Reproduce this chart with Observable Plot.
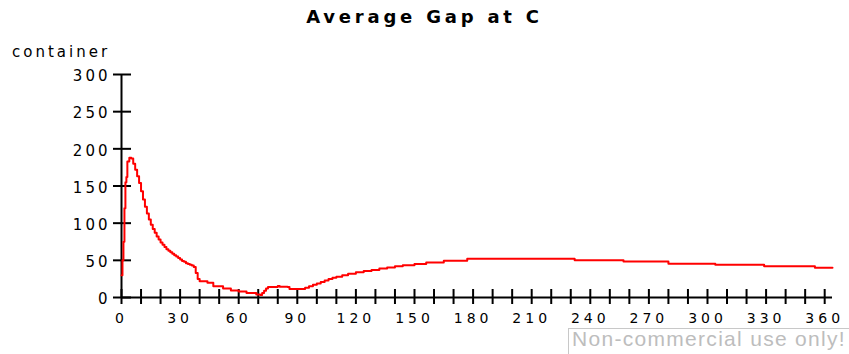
<!DOCTYPE html>
<html>
<head>
<meta charset="utf-8">
<script src="https://cdn.jsdelivr.net/npm/d3@7"></script>
<script src="https://cdn.jsdelivr.net/npm/@observablehq/plot@0.6"></script>
<style>
  html, body { margin: 0; padding: 0; background: #fff; }
  #wrap { position: relative; width: 849px; height: 354px; overflow: hidden; font-family: "DejaVu Sans", sans-serif; }
  #title { position: absolute; left: 0; top: 8px; width: 849px; text-align: center; font-size: 18px; font-weight: bold; letter-spacing: 3.8px; line-height: 18px; color: #000; }
  #ylab { position: absolute; left: 12px; top: 45px; font-size: 15px; letter-spacing: 3px; line-height: 15px; color: #000; }
  #wm { position: absolute; left: 568px; top: 328px; width: 300px; height: 40px; border: 1px solid #c8c8c8; box-sizing: border-box; padding-left: 3px; font-family: "Liberation Sans", sans-serif; font-size: 21px; letter-spacing: 1.3px; line-height: 20px; color: #bdbdbd; white-space: nowrap; }
  #chart { position: absolute; left: 0; top: 0; }
  .xl text { letter-spacing: 4px; }
  .yl text { letter-spacing: 3px; }
</style>
</head>
<body>
<div id="wrap">
  <div id="chart"></div>
  <div id="title">Average Gap at C</div>
  <div id="ylab">container</div>
  <div id="wm">Non-commercial use only!</div>
</div>
<script>
const times = [0,0.5,1,1.5,2,2.5,3,4,5,6,7,8,9,10,11,12,13,14,15,16,17,18,19,20,21,22,23,24,25,26,27,28,29,30,31,32,33,34,35,36,37,38,39,40,44,47,52,56,60,64,69,71,72,73,74,75,80,81,85,86,94,96,98,100,102,104,106,108,110,113,116,120,124,128,132,136,140,144,150,156,165,177,232,257,280,304,329,355,364];
const gap =   [30,50,75,120,155,162,183,188,187,180,172,163,154,143,132,122,113,105,98,92,87,82,78,74,71,68,65,63,61,59,57,55,53,51,49,48,46,45,44,43,41,33,25,22,20,15,12,9.5,8,6,4,3.5,6,9,12,14,15.5,14.5,14,11.5,13,15,17,19,21,23,25,26.5,28,30,32,34,35.5,37,39,40.5,42,43.5,45,47,49.5,52,50,48.5,45.5,44,42,40,40];
const xTicks = [0,10,20,30,40,50,60,70,80,90,100,110,120,130,140,150,160,170,180,190,200,210,220,230,240,250,260,270,280,290,300,310,320,330,340,350,360];
const xLabels = [0,30,60,90,120,150,180,210,240,270,300,330,360];
const yTicks = [0,50,100,150,200,250,300];

const data = times.map((t, i) => ({t, v: gap[i]}));

const chart = Plot.plot({
  width: 849,
  height: 354,
  marginLeft: 121,
  marginRight: 17,
  marginTop: 74,
  marginBottom: 57,
  style: {fontFamily: "DejaVu Sans, sans-serif", background: "#fff", color: "#000"},
  x: {domain: [0, 364], axis: null},
  y: {domain: [0, 300], axis: null},
  marks: [
    Plot.ruleX([0], {stroke: "#000", strokeWidth: 2}),
    Plot.ruleY([0], {stroke: "#000", strokeWidth: 2}),
    Plot.axisX({ticks: xTicks, anchor: "bottom", tickSize: 15, dy: -8, tickFormat: () => "", strokeWidth: 2, stroke: "#000", label: null}),
    Plot.axisX({ticks: xLabels, anchor: "bottom", tickSize: 0, tickPadding: 16, fontSize: 14, className: "xl", label: null, fill: "#000"}),
    Plot.axisY({ticks: yTicks, anchor: "left", tickSize: 18, dx: 10, tickFormat: () => "", strokeWidth: 2, stroke: "#000", label: null}),
    Plot.axisY({ticks: yTicks, anchor: "left", tickSize: 0, tickPadding: 11, dy: 2, fontSize: 15, className: "yl", label: null, fill: "#000"}),
    Plot.line(data, {x: "t", y: "v", curve: "step-after", stroke: "#ff0000", strokeWidth: 2})
  ]
});
document.getElementById("chart").appendChild(chart);
</script>
</body>
</html>
